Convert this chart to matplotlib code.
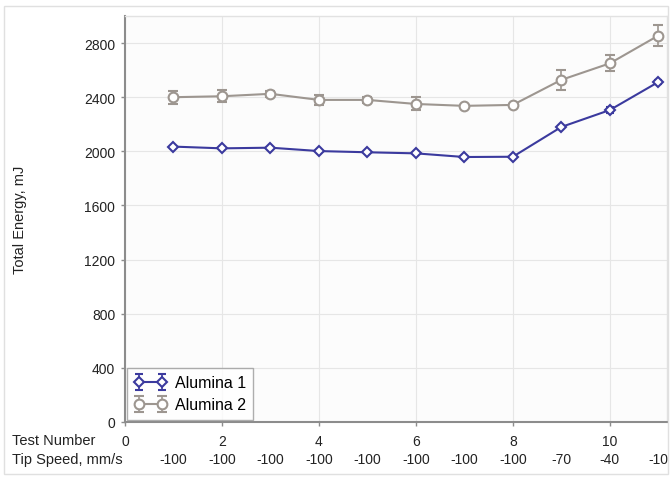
import numpy as np
import matplotlib.pyplot as plt

plt.rcParams['font.family'] = ['Liberation Sans', 'DejaVu Sans']

# data
test_number = [1, 2, 3, 4, 5, 6, 7, 8, 9, 10, 11]
tip_speed = [-100, -100, -100, -100, -100, -100, -100, -100, -70, -40, -10]

alumina1 = [2035, 2022, 2027, 2002, 1993, 1985, 1958, 1960, 2180, 2305, 2512]
alumina1_err = [8, 8, 8, 8, 8, 8, 8, 8, 10, 22, 18]

alumina2 = [2400, 2407, 2425, 2380, 2380, 2350, 2336, 2343, 2528, 2650, 2855]
alumina2_err = [48, 45, 20, 37, 22, 48, 10, 10, 72, 60, 75]

blue = '#3b3a9e'
gray = '#9d9690'

fig = plt.figure(figsize=(6.72, 4.81), dpi=100)
ax = fig.add_axes([125 / 672, 58 / 481, 542 / 672, 406 / 481])
ax.set_facecolor('#fcfcfc')

ax.errorbar(test_number, alumina1, yerr=alumina1_err, color=blue, marker='D',
            markersize=5, markerfacecolor='white', markeredgewidth=1.5,
            linewidth=1.5, capsize=3, elinewidth=1.2, label='Alumina 1', zorder=3)
ax.errorbar(test_number, alumina2, yerr=alumina2_err, color=gray, marker='o',
            markersize=7, markerfacecolor='white', markeredgewidth=1.5,
            linewidth=1.5, capsize=3.5, elinewidth=1.2, label='Alumina 2', zorder=3)

ax.set_xlim(0, 11.18)
ax.set_ylim(0, 3000)
ax.set_xticks([0, 2, 4, 6, 8, 10])
ax.set_yticks([0, 400, 800, 1200, 1600, 2000, 2400, 2800])
ax.grid(True, color='#e6e6e6', linewidth=0.8)
ax.set_axisbelow(True)

for side in ['left', 'bottom']:
    ax.spines[side].set_color('#8c8c8c')
    ax.spines[side].set_linewidth(1.5)
for side in ['top', 'right']:
    ax.spines[side].set_color('#e2e2e2')
    ax.spines[side].set_linewidth(1)

ax.tick_params(axis='both', colors='#8c8c8c', length=3, width=1, labelsize=10,
               labelcolor='#222222')
ax.tick_params(axis='x', pad=6)
ax.tick_params(axis='y', pad=4)

ax.set_ylabel('Total Energy, mJ', fontsize=10.5, color='#222222', labelpad=41)

# bottom annotations
fig.text(12 / 672, 1 - 441 / 481, 'Test Number', fontsize=10.5, color='#222222',
         ha='left', va='center')
fig.text(12 / 672, 1 - 460 / 481, 'Tip Speed, mm/s', fontsize=10.5, color='#222222',
         ha='left', va='center')
for x, s in zip(test_number, tip_speed):
    ax.text(x, -(460 - 423) / 406, str(s), transform=ax.get_xaxis_transform(),
            fontsize=10, color='#222222', ha='center', va='center')

leg = ax.legend(loc='lower left', fontsize=11.5, frameon=True, fancybox=False,
                borderaxespad=0.15, numpoints=2, handlelength=2.0,
                handletextpad=0.5, borderpad=0.45, labelspacing=0.45)
leg.get_frame().set_edgecolor('#9a9a9a')
leg.get_frame().set_linewidth(1)

# light outer frame
fig.patches.append(plt.Rectangle((4 / 672, 1 - 475 / 481), 664 / 672, 468 / 481,
                                 transform=fig.transFigure, fill=False,
                                 edgecolor='#e0e0e0', linewidth=1))

fig.savefig('out.png', dpi=100)
